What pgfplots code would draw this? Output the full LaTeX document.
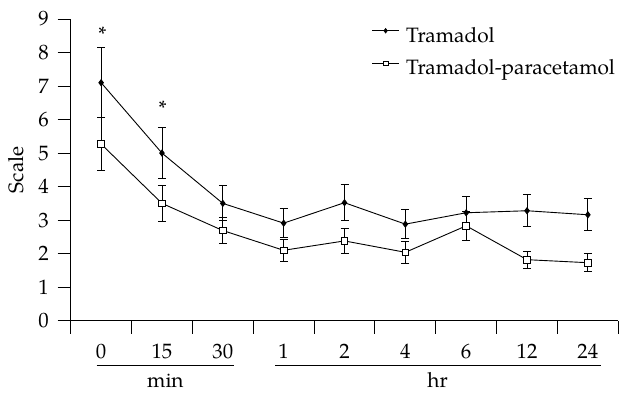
\documentclass[border=0pt]{standalone}
\usepackage{fontspec}
\setmainfont{TeX Gyre Pagella}
\usepackage{pgfplots}
\usepackage{pgfplotstable}
\pgfplotsset{compat=1.18}

\pgfplotstableread{
x y e
0.5 7.10 1.05
1.5 5.00 0.75
2.5 3.50 0.52
3.5 2.91 0.44
4.5 3.52 0.53
5.5 2.88 0.44
6.5 3.22 0.50
7.5 3.28 0.48
8.5 3.16 0.48
}\tramadol

\pgfplotstableread{
x y e
0.5 5.27 0.78
1.5 3.50 0.53
2.5 2.69 0.40
3.5 2.10 0.33
4.5 2.38 0.36
5.5 2.04 0.32
6.5 2.83 0.44
7.5 1.82 0.26
8.5 1.73 0.27
}\combo

\begin{document}
\begin{tikzpicture}[font=\fontsize{20.8}{25}\selectfont]
\begin{axis}[
  scale only axis,
  width=547.6pt, height=301.7pt,
  xmin=0, xmax=9, ymin=0, ymax=9,
  axis lines=left,
  axis line style={-, line width=0.9pt},
  every tick/.style={black, line width=0.9pt},
  tick align=outside,
  major tick length=13pt,
  xtick={0,...,9},
  xticklabels={},
  extra x ticks={0.5,1.5,2.5,3.5,4.5,5.5,6.5,7.5,8.5},
  extra x tick labels={0,15,30,1,2,4,6,12,24},
  extra x tick style={major tick length=0pt,
    tick label style={anchor=base, inner sep=0pt, yshift=-37.6pt}},
  ytick={0,...,9},
  yticklabel style={inner sep=0pt, anchor=east, xshift=-8.7pt},
  ylabel={Scale},
  ylabel style={inner sep=0pt, yshift=14pt},
  /pgf/number format/assume math mode=true,
  clip=false,
  legend cell align=left,
  legend style={draw=none, fill=none, inner sep=0pt, outer sep=0pt,
    at={(axis cs:4.947,8.90)}, anchor=north west,
    row sep=7.6pt, column sep=0pt,
    nodes={inner sep=0pt, outer sep=0pt, text height=15pt, text depth=5pt}},
]
\addplot+[black, line width=0.9pt, mark=diamond*, mark size=3pt,
  mark options={solid, fill=black},
  legend image code/.code={%
    \path[draw=none, fill=none] (0pt,-5pt) rectangle (34pt,15pt);
    \draw[black, line width=0.9pt] (0pt,6.6pt) -- (27pt,6.6pt);
    \draw[black, line width=0.6pt] plot[mark=diamond*, mark size=2.3pt, mark options={fill=black}] coordinates {(13.5pt,6.6pt)};},
  error bars/.cd, y dir=both, y explicit,
  error bar style={line width=0.9pt, black},
  error mark options={rotate=90, black, line width=0.9pt, mark size=4pt}]
  table[x=x, y=y, y error=e] {\tramadol};
\addlegendentry{Tramadol}
\addplot+[black, line width=0.9pt, mark=square*, mark size=3.3pt,
  mark options={solid, fill=white},
  legend image code/.code={%
    \path[draw=none, fill=none] (0pt,-5pt) rectangle (34pt,15pt);
    \draw[black, line width=0.9pt] (0pt,6.6pt) -- (27pt,6.6pt);
    \draw[black, line width=0.8pt] plot[mark=square*, mark size=2.4pt, mark options={fill=white}] coordinates {(13.5pt,6.6pt)};},
  error bars/.cd, y dir=both, y explicit,
  error bar style={line width=0.9pt, black},
  error mark options={rotate=90, black, line width=0.9pt, mark size=4pt}]
  table[x=x, y=y, y error=e] {\combo};
\addlegendentry{Tramadol-paracetamol}

\node[anchor=center, inner sep=0pt] at (axis cs:0.52,8.55) {*};
\node[anchor=center, inner sep=0pt] at (axis cs:1.51,6.35) {*};

\draw[line width=0.9pt] (axis cs:0.427,-1.34) -- (axis cs:2.684,-1.34);
\draw[line width=0.9pt] (axis cs:3.358,-1.34) -- (axis cs:8.717,-1.34);
\node[anchor=base, inner sep=0pt] at (axis cs:1.556,-2.0) {min};
\node[anchor=base, inner sep=0pt] at (axis cs:6.03,-2.0) {hr};

\coordinate (sw) at (rel axis cs:0,0);
\end{axis}
\pgfresetboundingbox
\path (sw) ++(-70.7pt,-72.3pt) rectangle ++(619pt,393pt);
\end{tikzpicture}
\end{document}
